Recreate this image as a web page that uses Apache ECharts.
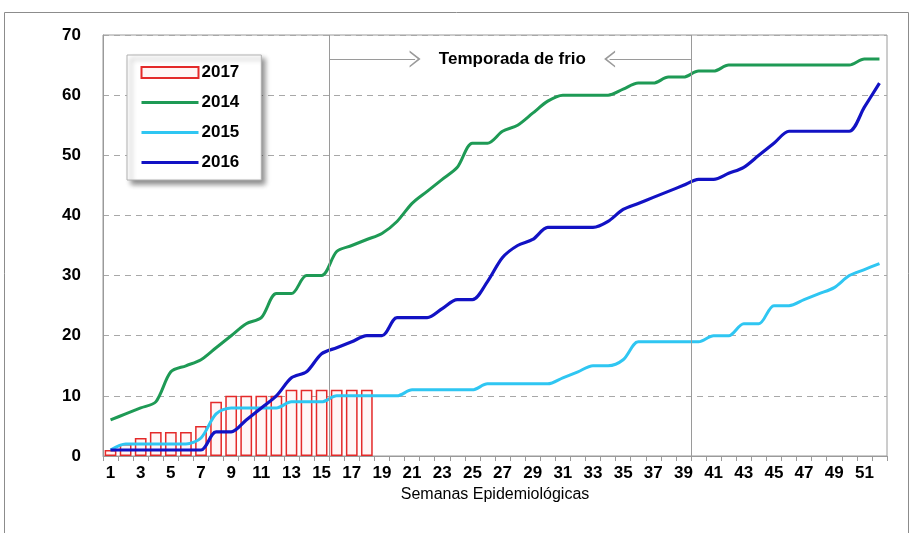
<!DOCTYPE html>
<html>
<head>
<meta charset="utf-8">
<script src="https://cdn.jsdelivr.net/npm/echarts@6/dist/echarts.min.js"></script>
<style>
  html, body { margin: 0; padding: 0; background: #fff; }
  #chart { width: 911px; height: 533px; }
</style>
</head>
<body>
<div id="chart"></div>
<script>
// semanas epidemiologicas 1..52
var weeks = ['1','2','3','4','5','6','7','8','9','10','11','12','13','14','15','16','17','18','19','20',
  '21','22','23','24','25','26','27','28','29','30','31','32','33','34','35','36','37','38','39','40',
  '41','42','43','44','45','46','47','48','49','50','51','52'];

// casos acumulados por año
var casos2017 = [1, 2, 3, 4, 4, 4, 5, 9, 10, 10, 10, 10, 11, 11, 11, 11, 11, 11];
var casos2014 = [6, 7, 8, 9, 14, 15, 16, 18, 20, 22, 23, 27, 27, 30, 30, 34, 35, 36, 37, 39,
  42, 44, 46, 48, 52, 52, 54, 55, 57, 59, 60, 60, 60, 60, 61, 62, 62, 63, 63, 64,
  64, 65, 65, 65, 65, 65, 65, 65, 65, 65, 66, 66];
var casos2015 = [1, 2, 2, 2, 2, 2, 3, 7, 8, 8, 8, 8, 9, 9, 9, 10, 10, 10, 10, 10,
  11, 11, 11, 11, 11, 12, 12, 12, 12, 12, 13, 14, 15, 15, 16, 19, 19, 19, 19, 19,
  20, 20, 22, 22, 25, 25, 26, 27, 28, 30, 31, 32];
var casos2016 = [1, 1, 1, 1, 1, 1, 1, 4, 4, 6, 8, 10, 13, 14, 17, 18, 19, 20, 20, 23,
  23, 23, 24.5, 26, 26, 29, 33, 35, 36, 38, 38, 38, 38, 39, 41, 42, 43, 44, 45, 46,
  46, 47, 48, 50, 52, 54, 54, 54, 54, 54, 58, 62];

// temporada de frio: semanas 16 a 39
var frioInicio = 15.5;
var frioFin = 39.5;

var FONT = 'Liberation Sans';
var chevron = 'path://M0,12 L8,0 L16,12 L14.2,12 L8,3 L1.8,12 Z';

var chart = echarts.init(document.getElementById('chart'));
chart.setOption({
    animation: false,
    backgroundColor: '#fff',
    textStyle: { fontFamily: FONT },
    graphic: [{
        type: 'rect', silent: true, z: -10,
        shape: { x: 4.5, y: 12.5, width: 904, height: 530 },
        style: { fill: null, stroke: '#8c8c8c', lineWidth: 1 }
    }],
    grid: {
        left: 103, right: 24, top: 35, bottom: 77,
        show: true, borderColor: '#9a9a9a', borderWidth: 1
    },
    legend: {
        orient: 'vertical',
        left: 127, top: 55,
        data: [
            { name: '2017', icon: 'rect' },
            { name: '2014', itemStyle: { opacity: 0 }, lineStyle: { width: 3 } },
            { name: '2015', itemStyle: { opacity: 0 }, lineStyle: { width: 3 } },
            { name: '2016', itemStyle: { opacity: 0 }, lineStyle: { width: 3 } }
        ],
        itemWidth: 57, itemHeight: 11, itemGap: 13,
        padding: [9, 22, 9, 13],
        backgroundColor: '#fff',
        borderColor: '#b0b0b0', borderWidth: 1,
        shadowColor: 'rgba(0,0,0,0.45)', shadowBlur: 5, shadowOffsetX: 4, shadowOffsetY: 4,
        textStyle: { fontFamily: FONT, fontSize: 17, fontWeight: 'bold', color: '#000', padding: [0, 0, 0, -2] }
    },
    xAxis: [{
        type: 'category',
        data: weeks,
        name: 'Semanas Epidemiológicas',
        nameLocation: 'center',
        nameGap: 31,
        nameTextStyle: { fontFamily: FONT, fontSize: 16, color: '#000' },
        axisLine: { lineStyle: { color: '#9a9a9a' } },
        axisTick: { show: true, interval: 0, length: 5, lineStyle: { color: '#9a9a9a' } },
        axisLabel: { interval: 1, margin: 9, fontFamily: FONT, fontSize: 17, fontWeight: 'bold', color: '#000' },
        splitLine: { show: false }
    }, {
        // eje auxiliar para marcar la temporada de frio
        type: 'value', min: 0.5, max: 52.5, show: false
    }],
    yAxis: {
        type: 'value',
        min: 0, max: 70, interval: 10,
        axisLine: { show: true, lineStyle: { color: '#9a9a9a' } },
        axisTick: { show: false },
        axisLabel: { margin: 22, fontFamily: FONT, fontSize: 17, fontWeight: 'bold', color: '#000' },
        splitLine: { lineStyle: { color: '#a8a8a8', type: [6, 5] } }
    },
    series: [
        {
            name: '2017',
            type: 'bar',
            data: casos2017,
            barWidth: '78%',
            itemStyle: { color: '#fff6f6', borderColor: '#e42a2a', borderWidth: 1.5 }
        },
        {
            name: '2014',
            type: 'line',
            data: casos2014,
            smooth: 0.3, symbol: 'none',
            itemStyle: { color: '#1e9a55' },
            lineStyle: { color: '#1e9a55', width: 3 }
        },
        {
            name: '2015',
            type: 'line',
            data: casos2015,
            smooth: 0.3, symbol: 'none',
            itemStyle: { color: '#2fc6f2' },
            lineStyle: { color: '#2fc6f2', width: 3 }
        },
        {
            name: '2016',
            type: 'line',
            data: casos2016,
            smooth: 0.3, symbol: 'none',
            itemStyle: { color: '#1212c4' },
            lineStyle: { color: '#1212c4', width: 3.2 }
        },
        {
            name: 'frio',
            type: 'line',
            xAxisIndex: 1,
            data: [],
            silent: true,
            markLine: {
                silent: true,
                animation: false,
                symbol: ['none', 'none'],
                label: { show: false },
                lineStyle: { color: '#9a9a9a', width: 1, type: 'solid' },
                data: [
                    [{ coord: [frioInicio, 0] }, { coord: [frioInicio, 70] }],
                    [{ coord: [frioFin, 0] }, { coord: [frioFin, 70] }],
                    [{ coord: [frioInicio, 66], symbol: 'none' },
                     { coord: [21.2, 66], symbol: chevron, symbolSize: [17, 11] }],
                    [{ coord: [frioFin, 66], symbol: 'none' },
                     { coord: [34.1, 66], symbol: chevron, symbolSize: [17, 11] }]
                ]
            },
            markPoint: {
                silent: true,
                symbol: 'rect', symbolSize: 1,
                itemStyle: { color: 'transparent' },
                label: {
                    show: true, position: 'inside',
                    fontFamily: FONT, fontSize: 17, fontWeight: 'bold', color: '#000',
                    formatter: 'Temporada de frio'
                },
                data: [{ coord: [27.65, 66] }]
            }
        }
    ]
});
</script>
</body>
</html>
